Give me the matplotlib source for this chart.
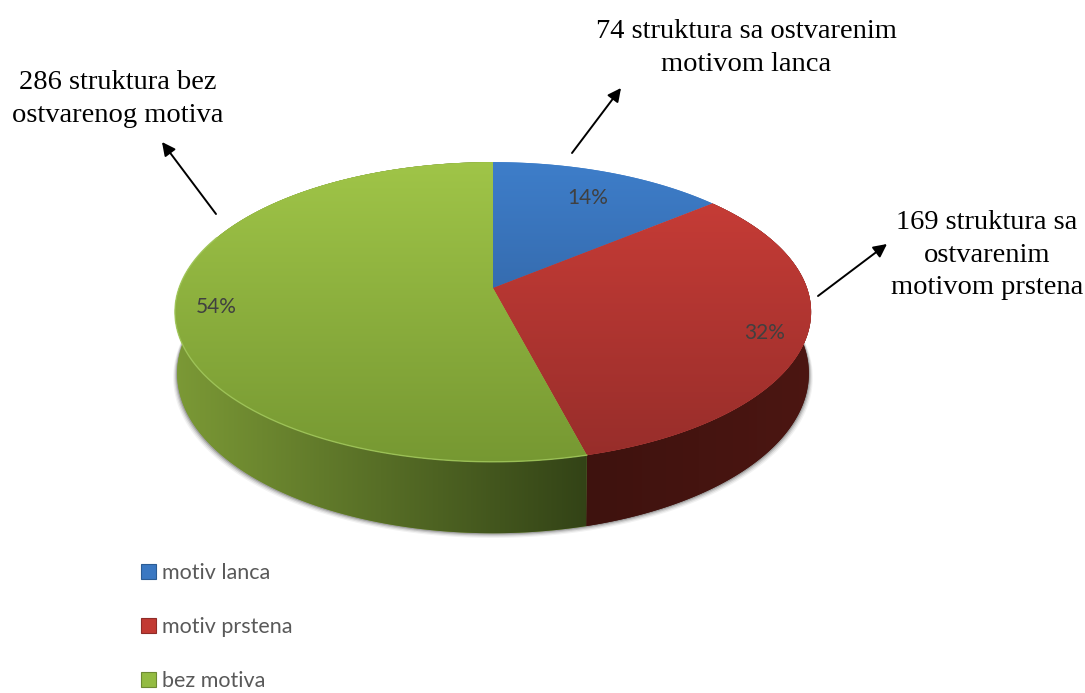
import numpy as np
import matplotlib
matplotlib.use("Agg")
import matplotlib.pyplot as plt
from matplotlib.patches import Polygon, Patch

# ---- data ----
categories = ["motiv lanca", "motiv prstena", "bez motiva"]
counts = [74, 169, 286]
callouts = ["{} struktura sa ostvarenim\nmotivom lanca",
            "{} struktura sa\nostvarenim\nmotivom prstena",
            "{} struktura bez\nostvarenog motiva"]
face_top = [(62, 126, 202), (205, 62, 56), (160, 197, 72)]
face_bottom = [(42, 84, 140), (150, 45, 42), (118, 152, 50)]
wall_left = [(30, 60, 100), (62, 18, 14), (124, 154, 54)]
wall_right = [(30, 60, 100), (76, 22, 18), (50, 66, 22)]
legend_colors = ["#3a78c2", "#c23a33", "#93bb42"]
legend_edges = ["#2b5c94", "#8f2c28", "#6d8a32"]

# ---- projection of the tilted disc to pixels ----
CX, CY, A, B, K, DEPTH = 493.0, 288.0, 314.0, 146.0, 0.16, 60.0
W, H = 1085, 693


def project(theta, radius=1.0, z=0.0, xscale=1.0):
    x, y = radius * np.sin(theta), radius * np.cos(theta)
    w = 1 + K * y
    return CX + xscale * A * x / w, CY - B * y / w + z / w


fig = plt.figure(figsize=(W / 100, H / 100), dpi=100)
ax = fig.add_axes([0, 0, 1, 1])
ax.axis("off")

total = sum(counts)
edges = 2 * np.pi * np.cumsum([0] + counts) / total


def gradient(c0, c1, horizontal, n=256):
    t = np.linspace(0, 1, n)
    arr = np.array([(1 - t) * a + t * b for a, b in zip(c0, c1)]).T / 255
    return arr[None, :, :] if horizontal else arr[:, None, :]


def shaded(poly_xy, c0, c1, horizontal, extent, zorder):
    patch = Polygon(poly_xy, closed=True, facecolor=tuple(v / 255 for v in c0),
                    edgecolor="none", zorder=zorder)
    ax.add_patch(patch)
    im = ax.imshow(gradient(c0, c1, horizontal), extent=extent, aspect="auto",
                   interpolation="bilinear", zorder=zorder + 0.01)
    im.set_clip_path(patch)
    return patch


# soft shadow round the lower rim
ring = np.linspace(0, 2 * np.pi, 400)
for grow, alpha in [(4.0, 0.05), (3.0, 0.08), (2.0, 0.12), (1.0, 0.18)]:
    sx, sy = project(ring, z=DEPTH + grow, xscale=0.993 + grow / 318)
    ax.add_patch(Polygon(np.c_[sx, sy], closed=True, facecolor="black", alpha=alpha,
                         edgecolor="none", zorder=1))

# side walls (only front facing slices are visible)
for i in range(3):
    th = np.linspace(edges[i], edges[i + 1], 200)
    tx, ty = project(th)
    bx, by = project(th, z=DEPTH, xscale=0.993)
    poly = np.r_[np.c_[tx, ty], np.c_[bx, by][::-1]]
    front = th[np.cos(th) < 0.15]
    if len(front) == 0:
        continue
    fx, _ = project(front)
    shaded(poly, wall_left[i], wall_right[i], True,
           (fx.min() - 4, fx.max() + 4, 560, 150), 2)

# top faces
for i in range(3):
    th = np.linspace(edges[i], edges[i + 1], 300)
    x, y = project(th)
    poly = np.r_[[[CX, CY]], np.c_[x, y]]
    shaded(poly, face_top[i], face_bottom[i], False, (170, 815, 464, 160), 3)

# light rim on the large slice
th = np.linspace(edges[2], edges[3] - 1.2, 200)
rx, ry = project(th)
ax.plot(rx, ry, color="#a3c95e", lw=1.0, zorder=4, alpha=0.8)

# percentage labels
pct_pos = [(588, 198), (765, 333), (216, 307)]
for v, (px, py) in zip(counts, pct_pos):
    ax.text(px, py, f"{round(100 * v / total)}%", ha="center", va="center",
            family="Lato", fontsize=15, color="#404040", zorder=6)

# call-outs
call_pos = [(746, 48), (987, 255), (118, 99)]
for v, s, (px, py) in zip(counts, callouts, call_pos):
    ax.text(px, py, s.format(v), ha="center", va="center", family="Liberation Serif",
            fontsize=20.5, color="black", linespacing=1.37, zorder=6)

arrows = [((572, 153), (621, 88)), ((818, 296), (887, 244)), ((216, 214), (162, 142))]
for start, end in arrows:
    ax.annotate("", xy=end, xytext=start, zorder=6,
                arrowprops=dict(arrowstyle="-|>", color="black", lw=1.4,
                                mutation_scale=20, shrinkA=0, shrinkB=0))

# legend
handles = [Patch(facecolor=c, edgecolor=e, linewidth=0.8)
           for c, e in zip(legend_colors, legend_edges)]
leg = ax.legend(handles, categories, loc="upper left", bbox_to_anchor=(124 / W, 1 - 546 / H),
                bbox_transform=fig.transFigure, frameon=False, handlelength=0.7,
                handleheight=0.7, handletextpad=0.28, labelspacing=1.58, borderpad=0.3,
                prop={"family": "Lato", "size": 15.5}, labelcolor="#595959")

ax.set_xlim(0, W)
ax.set_ylim(H, 0)
fig.savefig("out.png", dpi=100, facecolor="white")
